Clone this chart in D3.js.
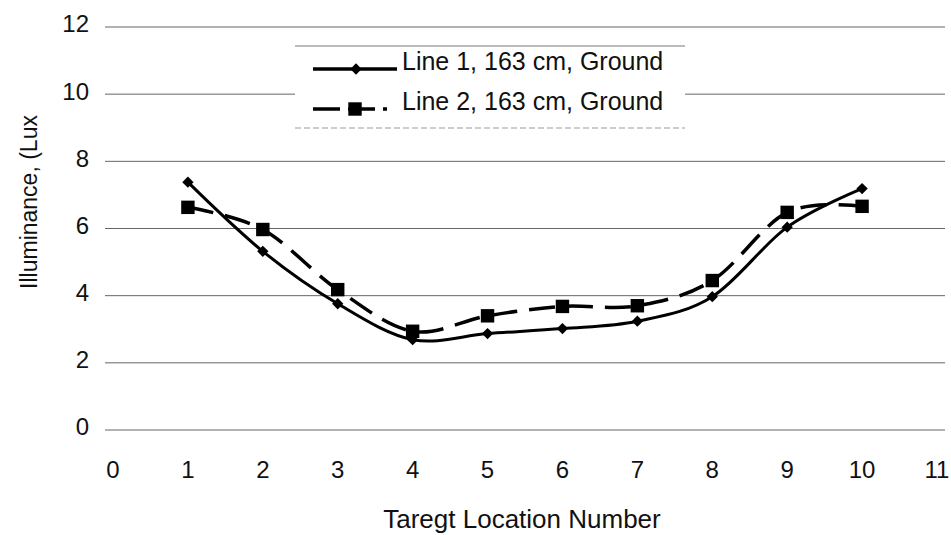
<!DOCTYPE html>
<html>
<head>
<meta charset="utf-8">
<script src="https://cdn.jsdelivr.net/npm/d3@7"></script>
<style>
  html, body { margin: 0; padding: 0; background: #fff; }
  svg { display: block; font-family: "Liberation Sans", Arial, sans-serif; }
</style>
</head>
<body>
<svg id="chart" width="951" height="535"></svg>
<script>
// ---- data ----
const locations = [1, 2, 3, 4, 5, 6, 7, 8, 9, 10];
const line1 = [7.38, 5.32, 3.76, 2.69, 2.87, 3.02, 3.24, 3.97, 6.04, 7.19];
const line2 = [6.63, 5.97, 4.18, 2.94, 3.40, 3.68, 3.70, 4.45, 6.48, 6.66];
const seriesNames = ["Line 1, 163 cm, Ground", "Line 2, 163 cm, Ground"];
const xTicks = [0, 1, 2, 3, 4, 5, 6, 7, 8, 9, 10, 11];
const yTicks = [0, 2, 4, 6, 8, 10, 12];
const xTitle = "Taregt Location Number";
const yTitle = "Illuminance, (Lux";

const svg = d3.select("#chart");
const x = d3.scaleLinear().domain([0, 11]).range([113, 937]);
const y = d3.scaleLinear().domain([0, 12]).range([430, 27]);

// gridlines
svg.append("g").selectAll("line").data(yTicks).join("line")
  .attr("x1", x.range()[0] - 8).attr("x2", x.range()[1] + 8)
  .attr("y1", d => y(d)).attr("y2", d => y(d))
  .attr("stroke", "#666").attr("stroke-width", 1);

// y tick labels
svg.append("g").selectAll("text").data(yTicks).join("text")
  .attr("x", 89).attr("y", d => y(d) - 3)
  .attr("dy", "0.35em")
  .attr("text-anchor", "end")
  .attr("font-size", 24).attr("fill", "#111")
  .text(d => d);

// x tick labels
svg.append("g").selectAll("text").data(xTicks).join("text")
  .attr("x", d => x(d)).attr("y", 478)
  .attr("text-anchor", "middle")
  .attr("font-size", 24).attr("fill", "#111")
  .text(d => d);

// axis titles
svg.append("text")
  .attr("x", x(5.5) - 3).attr("y", 528)
  .attr("text-anchor", "middle")
  .attr("font-size", 26).attr("fill", "#111")
  .text(xTitle);
svg.append("text")
  .attr("transform", "translate(37,202) rotate(-90)")
  .attr("text-anchor", "middle")
  .attr("font-size", 23).attr("fill", "#111")
  .text(yTitle);

const lineGen = d3.line()
  .x(d => x(d[0])).y(d => y(d[1]))
  .curve(d3.curveCatmullRom.alpha(0));

const pts1 = locations.map((l, i) => [l, line1[i]]);
const pts2 = locations.map((l, i) => [l, line2[i]]);

// series 2 (dashed, squares)
svg.append("path").datum(pts2)
  .attr("d", lineGen).attr("fill", "none")
  .attr("stroke", "#000").attr("stroke-width", 3.5)
  .attr("stroke-dasharray", "26,12");
// series 1 (solid, diamonds)
svg.append("path").datum(pts1)
  .attr("d", lineGen).attr("fill", "none")
  .attr("stroke", "#000").attr("stroke-width", 3);

const diamond = d3.symbol().type(d3.symbolSquare).size(64);
const square = d3.symbol().type(d3.symbolSquare).size(180);

svg.append("g").selectAll("path").data(pts2).join("path")
  .attr("transform", d => `translate(${x(d[0])},${y(d[1])})`)
  .attr("d", square).attr("fill", "#000");
svg.append("g").selectAll("path").data(pts1).join("path")
  .attr("transform", d => `translate(${x(d[0])},${y(d[1])}) rotate(45)`)
  .attr("d", diamond).attr("fill", "#000");

// legend
const lg = svg.append("g");
lg.append("rect").attr("x", 295).attr("y", 46).attr("width", 390).attr("height", 82)
  .attr("fill", "#fff");
lg.append("line").attr("x1", 295).attr("x2", 685).attr("y1", 46).attr("y2", 46)
  .attr("stroke", "#777").attr("stroke-width", 1);
lg.append("line").attr("x1", 295).attr("x2", 685).attr("y1", 128).attr("y2", 128)
  .attr("stroke", "#999").attr("stroke-width", 1).attr("stroke-dasharray", "6,3");

const legendRows = [
  { name: seriesNames[0], y: 69, dash: null, sym: diamond, rot: 45, sx1: 313, sx2: 397 },
  { name: seriesNames[1], y: 109, dash: "27,8", sym: square, rot: 0, sx1: 313, sx2: 387 }
];
legendRows.forEach(r => {
  lg.append("line").attr("x1", r.sx1).attr("x2", r.sx2).attr("y1", r.y).attr("y2", r.y)
    .attr("stroke", "#000").attr("stroke-width", 3.5)
    .attr("stroke-dasharray", r.dash);
  lg.append("path").attr("transform", `translate(${r.dash ? 355 : 356},${r.y}) rotate(${r.rot})`)
    .attr("d", r.sym).attr("fill", "#000");
  lg.append("text").attr("x", 402).attr("y", r.y + 1)
    .attr("font-size", 25).attr("fill", "#111").text(r.name);
});
</script>
</body>
</html>
